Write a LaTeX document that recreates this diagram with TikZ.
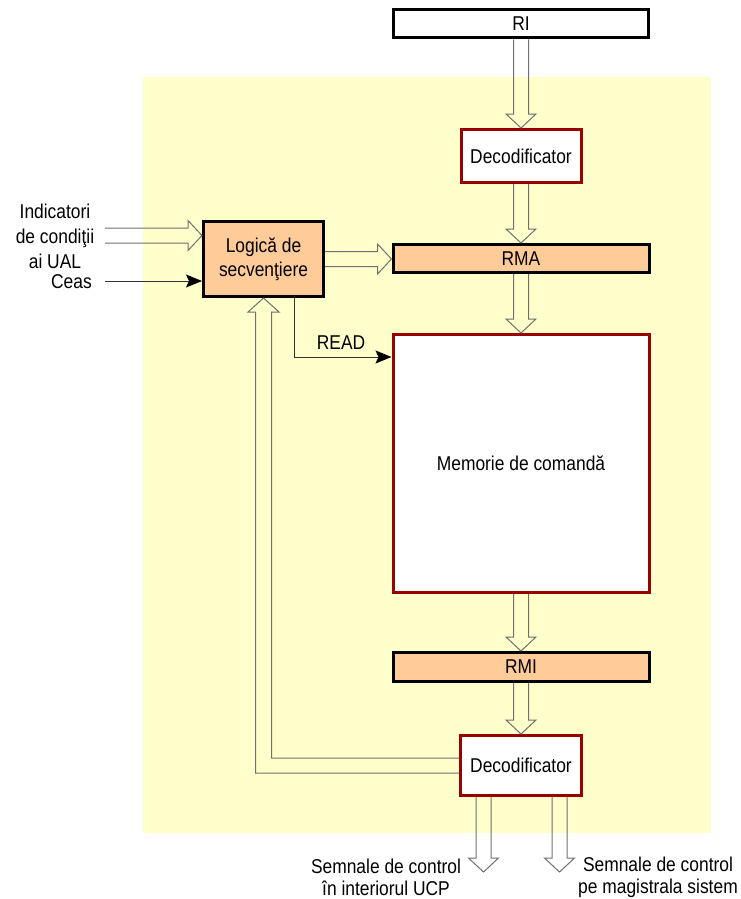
\documentclass[tikz,border=0pt]{standalone}
\usepackage{fontspec}
\setmainfont{Liberation Sans}[FakeStretch=0.87]
\usetikzlibrary{calc,arrows.meta}
\definecolor{bgyellow}{HTML}{FFFFCC}
\definecolor{peach}{HTML}{FFCC99}
\definecolor{darkred}{HTML}{990000}
\definecolor{arrowgray}{HTML}{707070}
\definecolor{linegray}{HTML}{333333}
\newcommand\hollowdown[2]{%
  \draw[hollow] ($(#1)+(-7.5,0)$) -- ($(#2)+(-7.5,-14)$) -- ($(#2)+(-15,-14)$) -- (#2)
    -- ($(#2)+(15,-14)$) -- ($(#2)+(7.5,-14)$) -- ($(#1)+(7.5,0)$);}
\newcommand\hollowright[2]{%
  \draw[hollow] ($(#1)+(0,-7.5)$) -- ($(#2)+(-14,-7.5)$) -- ($(#2)+(-14,-15)$) -- (#2)
    -- ($(#2)+(-14,15)$) -- ($(#2)+(-14,7.5)$) -- ($(#1)+(0,7.5)$);}
\begin{document}
\begin{tikzpicture}[x=1pt,y=-1pt,
  box/.style={draw, line width=3pt, inner sep=0pt, align=center,
    font=\fontsize{20}{24}\selectfont},
  regbox/.style={box, draw=black, fill=peach},
  decbox/.style={box, draw=darkred, fill=white},
  hollow/.style={draw=arrowgray, line width=1pt, line join=miter},
  conn/.style={draw=linegray, line width=1pt},
  tip/.style={-{Stealth[length=16pt,width=13pt,inset=3pt,black]}},
  lbl/.style={inner sep=0pt, align=center}]
\useasboundingbox (0,0) rectangle (741,899);
\fill[bgyellow] (143,77) rectangle (711,833);
% boxes
\node[box, draw=black, fill=white, minimum width=255pt, minimum height=28pt] (ri) at (521,24) {RI};
\node[decbox, minimum width=120pt, minimum height=53pt] (dec1) at (521,156) {Decodificator};
\node[regbox, minimum width=256pt, minimum height=28pt] (rma) at (521,258.5) {RMA};
\node[decbox, minimum width=256pt, minimum height=258pt] (mem) at (521,463.5) {Memorie de comandă};
\node[regbox, minimum width=256pt, minimum height=29pt] (rmi) at (521,667) {RMI};
\node[decbox, minimum width=121pt, minimum height=60pt] (dec2) at (521,765.5) {Decodificator};
\node[regbox, minimum width=120pt, minimum height=75pt] (logic) at (263.5,259) {Logică de\\secvenţiere};
% vertical hollow arrows
\hollowdown{ri.south}{dec1.north}
\hollowdown{dec1.south}{rma.north}
\hollowdown{rma.south}{mem.north}
\hollowdown{mem.south}{rmi.north}
\hollowdown{rmi.south}{dec2.north}
% outputs
\coordinate (out1) at (483.5,872);
\coordinate (out2) at (559.5,872);
\coordinate (o1s) at (dec2.south -| out1);
\coordinate (o2s) at (dec2.south -| out2);
\hollowdown{o1s}{out1}
\hollowdown{o2s}{out2}
% inputs to logic
\coordinate (indstart) at (105,235.5);
\coordinate (indtip) at (indstart -| logic.west);
\hollowright{indstart}{indtip}
\coordinate (rmatip) at (logic.east -| rma.west);
\hollowright{logic.east}{rmatip}
\coordinate (ceasstart) at (105,281);
\draw[conn, tip] (ceasstart) -- (ceasstart -| logic.west);
% READ
\draw[conn, tip] ($(logic.south)+(30.5,0)$) |- ($(mem.west)+(0,-106.5)$);
\node[lbl, font=\fontsize{20}{24}\selectfont] (read) at (341,343) {READ};
% feedback
\draw[hollow] ($(dec2.west)+(0,-7.5)$) -| ($(logic.south)+(8,14)$) -- ($(logic.south)+(15.5,14)$)
  -- (logic.south) -- ($(logic.south)+(-15.5,14)$) -- ($(logic.south)+(-8,14)$)
  |- ($(dec2.west)+(0,7.5)$);
% labels
\node[lbl, font=\fontsize{20}{25}\selectfont] (ind) at (55,236) {Indicatori\\de condiţii\\ai UAL};
\node[lbl, anchor=east, font=\fontsize{20}{24}\selectfont] (ceas) at (92,282) {Ceas};
\node[lbl, font=\fontsize{20}{22}\selectfont] (s1) at (386,877) {Semnale de control\\în interiorul UCP};
\node[lbl, font=\fontsize{20}{22}\selectfont] (s2) at (658,877) {Semnale de control\\pe magistrala sistem};
\end{tikzpicture}
\end{document}
